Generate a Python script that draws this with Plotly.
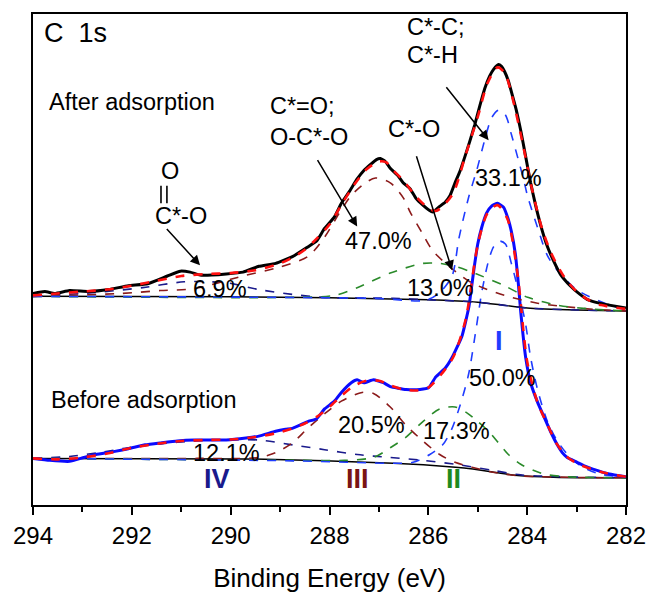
import plotly.graph_objects as go

# ---------------- data (binding energy in eV, intensity in a.u.) ----------------
# After adsorption: measured spectrum
E_after = [294.00,293.76,293.56,293.26,292.87,292.47,292.07,291.68,291.28,291.02,
           290.82,290.62,290.38,290.09,289.75,289.43,289.09,288.75,288.44,288.26,
           288.10,287.90,287.76,287.60,287.44,287.30,287.17,287.05,286.97,286.87,
           286.77,286.61,286.51,286.37,286.25,286.11,285.99,285.91,285.79,285.66,
           285.56,285.46,285.36,285.26,285.16,285.06,284.96,284.86,284.76,284.68,
           284.58,284.52,284.46,284.38,284.32,284.22,284.13,284.03,283.93,283.83,
           283.73,283.61,283.47,283.33,283.13,282.93,282.79,282.54,282.34,282.00]
I_after = [218,220,218,221,220,222,226,228,236,241,
           240,237,237,238,240,246,249,256,266,272,
           285,297,311,323,336,345,351,356,357,354,
           347,339,332,326,316,309,304,302,307,312,
           319,332,344,359,375,392,411,429,442,449,
           454,452,447,437,426,407,386,359,332,309,
           289,269,252,238,226,217,212,208,206,203]

# After adsorption: fit envelope
E_fit_a = [294.0,293.5,293.0,292.5,292.0,291.5,291.0,290.5,290.0,289.5,
           289.0,288.75,288.5,288.25,288.0,287.75,287.5,287.25,287.0,286.85,
           286.75,286.5,286.25,286.0,285.85,285.75,285.5,285.25,285.0,284.8,
           284.6,284.45,284.3,284.1,283.9,283.7,283.5,283.25,283.0,282.75,
           282.5,282.0]
I_fit_a = [216,218,220,222,226,231,236,238,239,242,
           249,255,263,275,289,310,330,346,354,353,
           347,334,318,306,303,306,321,360,400,435,
           451,445,420,375,325,285,258,235,220,211,
           206,202]

# After adsorption: background
E_bl_a = [294.0,290.0,288.0,286.0,285.0,284.5,284.0,283.0,282.0]
I_bl_a = [215,214.5,213.5,211.5,209,206,203,201,200]

# After adsorption: components
E_c1_a = [294.0,287.1,286.05,285.77,285.52,285.38,285.18,285.02,284.86,284.72,284.58,
          284.44,284.32,284.18,284.07,283.99,283.79,283.59,283.39,283.0,282.48,282.0]
I_c1_a = [215,213,211,219,236,275,318,345,376,399,407,
          402,382,356,335,318,286,257,242,222,209,201]
E_c2_a = [294.0,288.69,287.9,287.44,286.77,286.11,285.77,285.46,285.12,284.46,283.99,283.39,282.73,282.0]
I_c2_a = [215,214,216,224,239,249,249,246,240,226,214,206,202,200]
E_c3_a = [294.0,292.21,291.42,290.74,289.75,289.09,288.44,288.1,287.8,287.56,
          287.3,287.07,286.77,286.5,286.37,286.11,285.91,285.58,285.12,284.46,
          283.79,282.73,282.0]
I_c3_a = [215,218,221,223,236,244,256,276,301,319,
          331,337,332,316,302,279,262,246,229,216,
          208,202,200]
E_c4_a = [294.0,292.73,291.78,290.94,290.09,289.43,288.75,288.1,287.7,286.71,286.0,285.0,284.0,283.0,282.0]
I_c4_a = [215,219,224,230,229,222,217,214,213.5,213,211.5,209,203,201,200]

# Before adsorption: measured spectrum
E_before = [294.00,293.66,293.26,292.97,292.73,292.37,292.07,291.73,291.42,291.08,
            290.74,290.42,290.09,289.69,289.43,289.09,288.89,288.75,288.44,288.26,
            288.10,287.90,287.76,287.56,287.44,287.30,287.11,286.91,286.77,286.45,
            286.17,285.99,285.85,285.66,285.52,285.32,285.18,285.08,285.00,284.92,
            284.82,284.72,284.60,284.48,284.38,284.32,284.24,284.18,284.13,284.03,
            283.93,283.79,283.67,283.53,283.39,283.29,283.19,282.99,282.83,282.67,
            282.34,282.00]
I_before = [48,46,45,49,52,55,58,62,64,66,
            67,67,67,69,71,76,78,79,86,89,
            99,107,116,126,129,126,129,126,122,119,
            119,121,132,141,152,174,204,242,269,286,
            301,308,311,307,294,282,259,229,199,152,
            126,106,92,76,62,54,49,44,40,37,
            32,29]

# Before adsorption: fit envelope
E_fit_b = [294.0,293.5,293.0,292.5,292.0,291.5,291.0,290.5,290.0,289.5,
           289.0,288.75,288.5,288.25,288.0,287.75,287.5,287.25,287.0,286.75,
           286.5,286.25,286.0,285.75,285.5,285.25,285.0,284.8,284.6,284.4,
           284.2,284.0,283.8,283.6,283.4,283.2,283.0,282.5,282.0]
I_fit_b = [48,47,49,53,59,63,66,67,67.5,70,
           75,79,84,91,101,113,123,128,128,123,
           119,118,121,134,152,190,268,301,309,295,
           240,148,107,84,63,50,43,34,29]

# Before adsorption: background
E_bl_b = [294.0,289.69,288.1,286.71,286.1,285.45,285.1,284.7,284.3,283.7,283.0,282.0]
I_bl_b = [48,47.5,45.5,43,41.5,39,37,34,31,29,28,28]

# Before adsorption: components
E_c1_b = [294.0,288.69,286.71,286.31,285.97,285.71,285.52,285.32,285.18,285.02,
          284.92,284.78,284.68,284.56,284.44,284.32,284.17,284.03,283.93,283.79,
          283.59,283.39,283.13,282.87,282.54,282.0]
I_c1_b = [48,45.5,43,44,52,62,79,109,136,186,
          219,252,266,272,269,249,219,186,152,119,
          86,66,49,39,32,29]
E_c2_b = [294.0,288.69,287.7,287.11,286.77,286.45,286.11,285.77,285.46,285.22,
          285.02,284.78,284.58,284.38,284.13,283.67,283.13,282.0]
I_c2_b = [48,46,46,49,59,70,86,99,101,95,
          87,76,64,52,42,32,29,28]
E_c3_b = [294.0,290.68,289.43,289.09,288.75,288.44,288.10,287.76,287.34,287.11,
          286.77,286.45,286.11,285.77,285.46,285.12,284.72,284.13,282.0]
I_c3_b = [48,48,49,54,64,79,94,107,116,115,
          101,82,66,52,44,39,34,30,28]
E_c4_b = [294.0,293.26,292.67,292.07,291.42,290.74,290.09,289.43,288.75,288.10,
          287.44,286.77,286.11,285.46,284.72,284.13,282.0]
I_c4_b = [48,50,54,59,63,66,67,67,62,57,
          52,49,46,42,36,31,28]

# Labels
pct_after = ["33.1%", "47.0%", "13.0%", "6.9%"]
pct_before = ["50.0%", "20.5%", "17.3%", "12.1%"]
roman = ["I", "II", "III", "IV"]

# ---------------- styles ----------------
C_BLUE = "#1f3cff"
C_GREEN = "#2a8a2a"
C_BROWN = "#8b1a1a"
C_NAVY = "#1a1a8c"
FONT = "Arial, Liberation Sans, sans-serif"

fig = go.Figure()

def comp(x, y, color, width=1.6):
    fig.add_trace(go.Scatter(x=x, y=y, mode="lines", showlegend=False,
                             line=dict(color=color, width=width, dash="dash",
                                       shape="spline", smoothing=0.8)))

def solid(x, y, color, width):
    fig.add_trace(go.Scatter(x=x, y=y, mode="lines", showlegend=False,
                             line=dict(color=color, width=width, shape="spline", smoothing=0.4)))

# before adsorption
solid(E_bl_b, I_bl_b, "black", 1.5)
comp(E_c4_b, I_c4_b, C_NAVY)
comp(E_c3_b, I_c3_b, C_BROWN)
comp(E_c2_b, I_c2_b, C_GREEN)
comp(E_c1_b, I_c1_b, C_BLUE)
solid(E_before, I_before, "#0a0aff", 3)
comp(E_fit_b, I_fit_b, "#ff1010", 2.6)

# after adsorption
solid(E_bl_a, I_bl_a, "black", 1.5)
comp(E_c4_a, I_c4_a, C_NAVY)
comp(E_c3_a, I_c3_a, C_BROWN)
comp(E_c2_a, I_c2_a, C_GREEN)
comp(E_c1_a, I_c1_a, C_BLUE)
solid(E_after, I_after, "black", 3)
comp(E_fit_a, I_fit_a, "#ff1010", 2.6)

ann = []
def txt(x, y, s, size=22, color="black", xanchor="center", bold=False):
    if bold:
        s = "<b>" + s + "</b>"
    ann.append(dict(x=x, y=y, xref="x", yref="y", text=s, showarrow=False,
                    xanchor=xanchor, yanchor="middle",
                    font=dict(family=FONT, size=size, color=color)))

def arrow(x0, y0, x1, y1):
    ann.append(dict(x=x1, y=y1, ax=x0, ay=y0, xref="x", yref="y", axref="x", ayref="y",
                    text="", showarrow=True, arrowhead=2, arrowsize=1.3, arrowwidth=1.5,
                    arrowcolor="black"))

LAB = 23.5
PCT = 23.5
txt(293.82, 486, "C  1s", size=27, xanchor="left")
txt(293.72, 415, "After adsorption", size=LAB, xanchor="left")
txt(293.68, 108, "Before adsorption", size=LAB, xanchor="left")

txt(289.25, 411, "C*=O;", size=LAB, xanchor="left")
txt(289.25, 379, "O-C*-O", size=LAB, xanchor="left")
txt(286.47, 493, "C*-C;", size=LAB, xanchor="left")
txt(286.47, 464, "C*-H", size=LAB, xanchor="left")
txt(286.29, 388, "C*-O", size=LAB)
txt(291.22, 344, "O", size=LAB)
txt(291.0, 298, "C*-O", size=LAB)

arrow(291.32, 286, 290.62, 247)
arrow(288.26, 357, 287.44, 287)
arrow(286.25, 361, 285.52, 242)
arrow(285.66, 432, 284.78, 376)

txt(284.38, 337, pct_after[0], size=PCT)
txt(287.01, 272, pct_after[1], size=PCT)
txt(285.75, 224, pct_after[2], size=PCT)
txt(290.22, 223, pct_after[3], size=PCT)
txt(284.50, 131, pct_before[0], size=PCT)
txt(287.15, 82, pct_before[1], size=PCT)
txt(285.42, 76, pct_before[2], size=PCT)
txt(290.09, 54, pct_before[3], size=PCT)

txt(284.58, 169, roman[0], size=27, color=C_BLUE, bold=True)
txt(285.50, 27, roman[1], size=27, color="#1e8a1e", bold=True)
txt(287.44, 27, roman[2], size=27, color="#7a1414", bold=True)
txt(290.28, 27, roman[3], size=27, color=C_NAVY, bold=True)

# double-bond glyph of the ester label (two short strokes between "O" and "C*-O")
shapes = [dict(type="line", xref="x", yref="y", x0=bx, x1=bx, y0=311, y1=329,
               line=dict(color="black", width=1.6)) for bx in (291.41, 291.29)]

fig.update_layout(
    width=658, height=600,
    margin=dict(l=33, r=21, t=13, b=81),
    paper_bgcolor="white", plot_bgcolor="white",
    annotations=ann,
    shapes=shapes,
    showlegend=False,
    font=dict(family=FONT, color="black"),
    xaxis=dict(range=[294, 282], tickvals=[294, 292, 290, 288, 286, 284, 282],
               ticks="outside", ticklen=8, tickwidth=2, tickcolor="black",
               minor=dict(ticks="outside", ticklen=5, tickwidth=1.5, tickcolor="black", dtick=1),
               showline=True, linewidth=2, linecolor="black", mirror=True,
               showgrid=False, zeroline=False,
               tickfont=dict(family=FONT, size=24, color="black"),
               title=dict(text="Binding Energy (eV)", standoff=21,
                          font=dict(family=FONT, size=26, color="black"))),
    yaxis=dict(range=[0, 506], showticklabels=False, ticks="",
               showline=True, linewidth=2, linecolor="black", mirror=True,
               showgrid=False, zeroline=False),
)

fig.write_html("out.html")
